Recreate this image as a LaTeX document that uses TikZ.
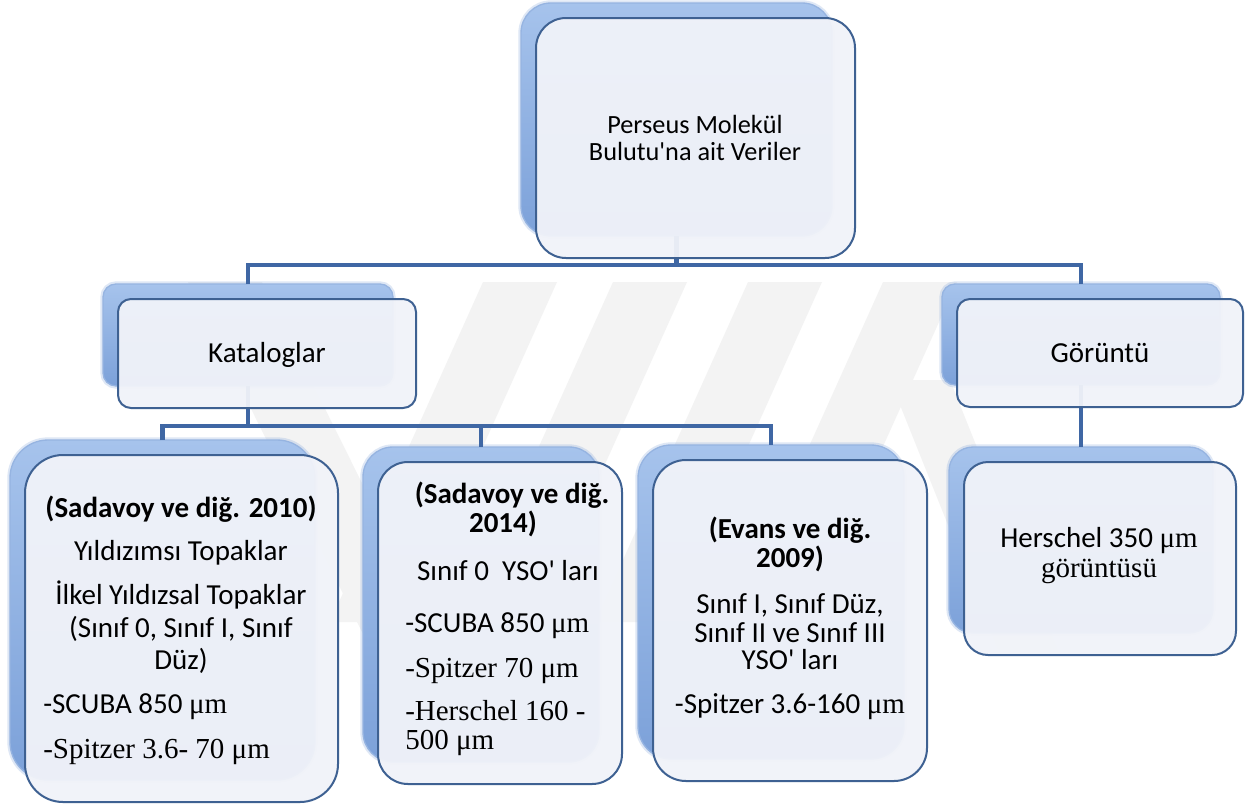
\documentclass[tikz,border=0pt]{standalone}
\usepackage{fontspec}
\setmainfont{Carlito}
\newfontfamily\tnr{Liberation Serif}
\usetikzlibrary{calc}
\definecolor{conncol}{HTML}{3F67A4}
\definecolor{edgecol}{HTML}{3E6192}
\definecolor{frontfill}{HTML}{F1F3F9}
\definecolor{backtop}{HTML}{A6C3EC}
\definecolor{backbot}{HTML}{7CA1D9}
\definecolor{wmcol}{HTML}{F3F3F3}
\newcommand{\um}{{\tnr μm}}
\newcommand{\apo}{\textquotesingle}
\begin{document}
\begin{tikzpicture}[x=0.75pt,y=-0.75pt,
  sz/.style 2 args={minimum width={#1*0.75pt},minimum height={#2*0.75pt}},
  backbox/.style={draw=backbot!80!white, line width=1pt, top color=backtop, bottom color=backbot,
    inner sep=0pt, outer sep=0pt,
    preaction={draw=backbot, line width=4pt, draw opacity=0.25}},
  frontbox/.style={draw=edgecol, line width=1.5pt, fill=frontfill, fill opacity=0.95, inner sep=0pt, outer sep=0pt},
  connector/.style={draw=conncol, line width=3.4pt},
  txt/.style={inner sep=0pt, anchor=base, font=\fontsize{21.75}{26}\selectfont},
  ltxt/.style={txt, anchor=base west},
  ttxt/.style={txt, font=\fontsize{19.7}{24}\selectfont},
  btxt/.style={txt, font=\fontsize{21.75}{26}\selectfont\bfseries},
  wmark/.style={fill=wmcol, draw=none}
]
\fill[white] (0,0) rectangle (1252,807);
\useasboundingbox (0,0) rectangle (1252,807);

% faint watermark bands
\foreach \c in {520,650,785,920}{
  \fill[wmark] (\c-37,282) -- (\c+37,282) -- (\c+37-153,622) -- (\c-37-153,622) -- cycle;
}
\fill[wmark] (188,282) -- (262,282) -- (440,640) -- (366,640) -- cycle;
\fill[wmark] (890,380) -- (950,380) -- (1058,650) -- (998,650) -- cycle;

% back boxes
\node[backbox, sz={311}{233}, rounded corners=22.5pt] (topb) at (676.5,119.5) {};
\node[backbox, sz={290}{102}, rounded corners=9.75pt] (katb) at (248,335) {};
\node[backbox, sz={278}{101}, rounded corners=9.75pt] (gorb) at (1081,334.5) {};
\node[backbox, sz={305}{340}, rounded corners=28.5pt] (s10b) at (162.5,610) {};
\node[backbox, sz={236}{315}, rounded corners=22.5pt] (s14b) at (481,604.5) {};
\node[backbox, sz={266}{314}, rounded corners=24.75pt] (evb) at (771,602) {};
\node[backbox, sz={264}{186}, rounded corners=18pt] (herb) at (1081,540) {};

% connectors
\coordinate (bus1) at (676.5,265);
\coordinate (bus2) at (248,426);
\draw[connector] (topb.south) -- (bus1);
\draw[connector] (katb.north) |- (bus1) -| (gorb.north);
\draw[connector] (katb.south) -- (bus2);
\draw[connector] (s10b.north) |- (bus2) -| (evb.north);
\draw[connector] (bus2) -| (s14b.north);
\draw[connector] (gorb.south) -- (herb.north);

% front boxes
\node[frontbox, sz={319}{240}, rounded corners=22.5pt] (top) at (695.5,138) {};
\node[frontbox, sz={298}{109}, rounded corners=9.75pt] (kat) at (267,353.5) {};
\node[frontbox, sz={286}{108}, rounded corners=9.75pt] (gor) at (1100,353) {};
\node[frontbox, sz={313}{347}, rounded corners=28.5pt] (s10) at (181.5,628.5) {};
\node[frontbox, sz={244}{322}, rounded corners=22.5pt] (s14) at (500,623) {};
\node[frontbox, sz={274}{321}, rounded corners=24.75pt] (ev) at (790,620.5) {};
\node[frontbox, sz={272}{193}, rounded corners=18pt] (her) at (1100,558.5) {};

% texts
\node[ttxt] (t1) at (695,133) {Perseus Molekül};
\node[ttxt] (t2) at (695,160) {Bulutu\apo na ait Veriler};
\node[txt] (k1) at (267,362) {Kataloglar};
\node[txt] (g1) at (1100,362) {Görüntü};

\node[btxt] (a1) at (181,517) {(Sadavoy ve diğ. 2010)};
\node[txt] (a2) at (181,560) {Yıldızımsı Topaklar};
\node[txt] (a3) at (181,604) {İlkel Yıldızsal Topaklar};
\node[txt] (a4) at (181,637) {(Sınıf 0, Sınıf I, Sınıf};
\node[txt] (a5) at (181,669) {Düz)};
\node[ltxt] (a6) at (43,713) {-SCUBA 850 \um};
\node[ltxt] (a7) at (43,758) {\tnr -Spitzer 3.6- 70 μm};

\node[btxt] (b1) at (512,503) {(Sadavoy ve diğ.};
\node[btxt] (b2) at (503,532) {2014)};
\node[txt] (b3) at (508,580) {Sınıf 0~~YSO\apo\ ları};
\node[ltxt] (b4) at (405,632) {-SCUBA 850 \um};
\node[ltxt] (b5) at (405,677) {\tnr -Spitzer 70 μm};
\node[ltxt] (b6) at (405,720) {\tnr -Herschel 160 -};
\node[ltxt] (b7) at (405,749) {\tnr 500 μm};

\node[btxt] (c1) at (790,538) {(Evans ve diğ.};
\node[btxt] (c2) at (790,567) {2009)};
\node[txt] (c3) at (790,613) {Sınıf I, Sınıf Düz,};
\node[txt] (c4) at (790,642) {Sınıf II ve Sınıf III};
\node[txt] (c5) at (790,669) {YSO\apo\ ları};
\node[txt] (c6) at (790,713) {-Spitzer 3.6-160 \um};

\node[txt] (d1) at (1099,547) {Herschel 350 \um};
\node[txt] (d2) at (1099,577) {\tnr görüntüsü};
\end{tikzpicture}
\end{document}
